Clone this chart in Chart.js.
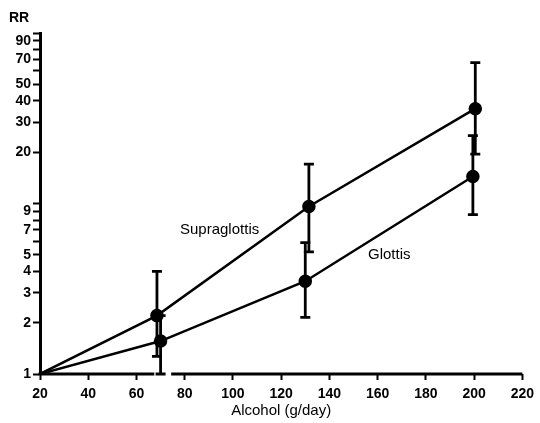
<!DOCTYPE html>
<html>
<head>
<meta charset="utf-8">
<script src="https://cdn.jsdelivr.net/npm/chart.js@4/dist/chart.umd.min.js"></script>
<style>
  html, body { margin: 0; padding: 0; background: #fff; }
  #wrap { width: 540px; height: 423px; }
</style>
</head>
<body>
<div id="wrap"><canvas id="chart" width="540" height="423"></canvas></div>
<script>
// values
const supraX = [20, 68.5, 131.5, 200.5];
const supraRR = [1, 2.2, 9.6, 36];
const supraLow = [null, 1.27, 5.2, 19.5];
const supraHigh = [null, 4.0, 17, 67];

const glottisX = [20, 70, 130, 199.5];
const glottisRR = [1, 1.56, 3.5, 14.4];
const glottisLow = [null, 1.0, 2.15, 8.6];
const glottisHigh = [null, 2.2, 5.9, 25];

const yTicks = [1, 2, 3, 4, 5, 6, 7, 8, 9, 10, 20, 30, 40, 50, 60, 70, 80, 90, 100];
const yLabels = [1, 2, 3, 4, 5, 7, 9, 20, 30, 40, 50, 70, 90];

const FONT = "'Liberation Sans', Arial, Helvetica, sans-serif";

const toPoints = (xs, ys) => xs.map((x, i) => ({ x: x, y: ys[i] }));

// error bars, text labels and the broken x axis line
const extras = {
  id: 'extras',
  afterDatasetsDraw(chart) {
    const ctx = chart.ctx;
    const xs = chart.scales.x;
    const ys = chart.scales.y;
    const area = chart.chartArea;

    ctx.save();
    ctx.strokeStyle = '#000';
    ctx.lineWidth = 2.8;
    const bars = [
      [supraX, supraLow, supraHigh],
      [glottisX, glottisLow, glottisHigh],
    ];
    bars.forEach(([xv, lo, hi]) => {
      xv.forEach((x, i) => {
        if (lo[i] == null) return;
        const px = xs.getPixelForValue(x);
        const yl = ys.getPixelForValue(lo[i]);
        const yh = ys.getPixelForValue(hi[i]);
        ctx.beginPath();
        ctx.moveTo(px, yl);
        ctx.lineTo(px, yh);
        ctx.moveTo(px - 5, yl);
        ctx.lineTo(px + 5, yl);
        ctx.moveTo(px - 5, yh);
        ctx.lineTo(px + 5, yh);
        ctx.stroke();
      });
    });

    // x axis with a break between 60 and 80
    ctx.lineWidth = 3;
    ctx.beginPath();
    ctx.moveTo(area.left - 1.5, area.bottom);
    ctx.lineTo(xs.getPixelForValue(67.4), area.bottom);
    ctx.moveTo(xs.getPixelForValue(74.4), area.bottom);
    ctx.lineTo(area.right, area.bottom);
    ctx.stroke();

    ctx.fillStyle = '#000';
    ctx.font = '15px ' + FONT;
    ctx.textBaseline = 'middle';
    ctx.textAlign = 'left';
    ctx.fillText('Supraglottis', 180, 230);
    ctx.fillText('Glottis', 368, 255);

    ctx.font = 'bold 14px ' + FONT;
    ctx.fillText('RR', 9, 18);
    ctx.restore();
  }
};

new Chart(document.getElementById('chart'), {
  type: 'line',
  data: {
    datasets: [
      {
        label: 'Supraglottis',
        data: toPoints(supraX, supraRR),
        borderColor: '#000',
        backgroundColor: '#000',
        borderWidth: 2.5,
        pointRadius: [0, 5.5, 5.5, 5.5],
        pointBackgroundColor: '#000',
        tension: 0,
      },
      {
        label: 'Glottis',
        data: toPoints(glottisX, glottisRR),
        borderColor: '#000',
        backgroundColor: '#000',
        borderWidth: 2.5,
        pointRadius: [0, 5.5, 5.5, 5.5],
        pointBackgroundColor: '#000',
        tension: 0,
      },
    ],
  },
  options: {
    responsive: false,
    animation: false,
    layout: { padding: { left: 0, top: 33, right: 11, bottom: 0 } },
    plugins: {
      legend: { display: false },
      tooltip: { enabled: false },
    },
    scales: {
      x: {
        type: 'linear',
        min: 20,
        max: 220,
        afterFit: (scale) => { scale.height = 49; },
        border: { display: false },
        grid: { drawOnChartArea: false, tickLength: 6, tickColor: '#000', tickWidth: 2 },
        ticks: {
          stepSize: 20,
          color: '#000',
          padding: 6,
          font: { family: FONT, size: 14, weight: 'bold' },
          maxRotation: 0,
        },
        title: {
          display: true,
          text: 'Alcohol (g/day)',
          color: '#000',
          font: { family: FONT, size: 15 },
          padding: { top: 0, bottom: 3 },
        },
      },
      y: {
        type: 'logarithmic',
        min: 1,
        max: 100,
        afterFit: (scale) => { scale.width = 40; },
        afterBuildTicks: (scale) => { scale.ticks = yTicks.map((v) => ({ value: v })); },
        border: { display: true, color: '#000', width: 3 },
        grid: { drawOnChartArea: false, tickLength: 7, tickColor: '#000', tickWidth: 2 },
        ticks: {
          autoSkip: false,
          color: '#000',
          padding: 2,
          font: { family: FONT, size: 14, weight: 'bold' },
          callback: (v) => (yLabels.includes(v) ? String(v) : ''),
        },
      },
    },
  },
  plugins: [extras],
});
</script>
</body>
</html>
